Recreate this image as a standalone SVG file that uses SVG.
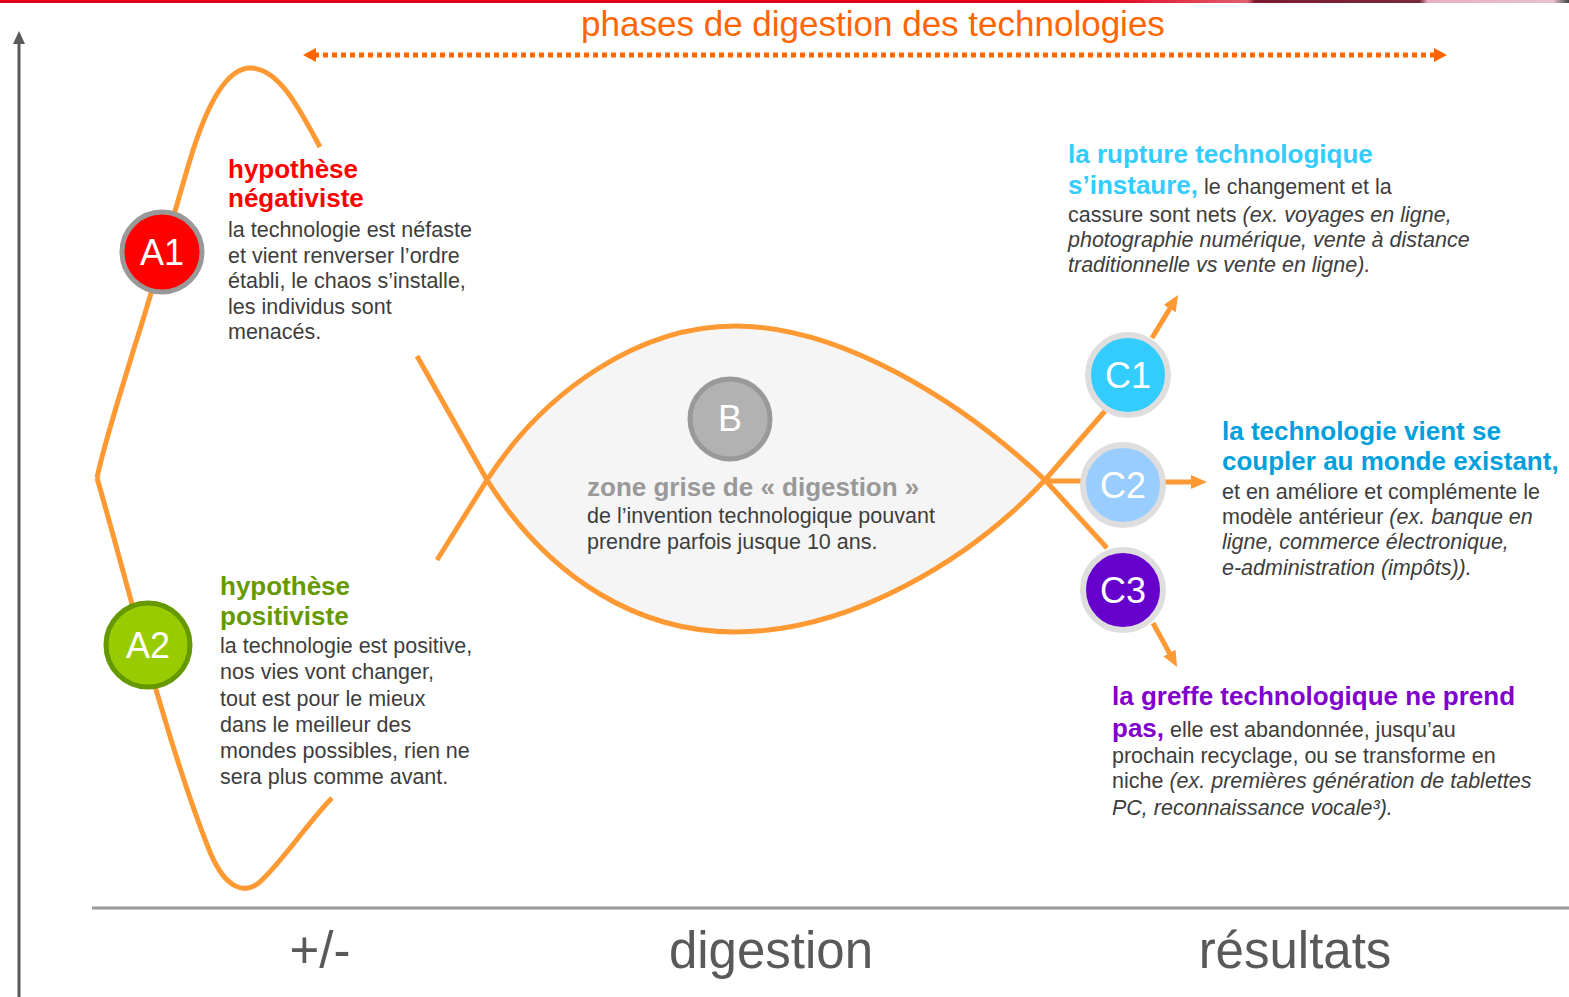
<svg xmlns="http://www.w3.org/2000/svg" width="1569" height="997" viewBox="0 0 1569 997">
<defs>
<style>
text{font-family:"Liberation Sans",Arial,sans-serif;}
.h{font-weight:bold;font-size:26px;}
.b{font-size:21.5px;fill:#3d3d3d;}
.it{font-style:italic;}
.lbl{fill:#fff;text-anchor:middle;font-size:36px;}
.curve{fill:none;stroke:#ff9933;stroke-width:5;stroke-linejoin:round;}
.arr{fill:none;stroke:#ff9933;stroke-width:5;marker-end:url(#arrO);}
.cc{stroke:#dedede;stroke-width:6;}
.axis{font-size:51px;fill:#595959;text-anchor:middle;}
</style>
<linearGradient id="topline" x1="0" y1="0" x2="1" y2="0">
<stop offset="0" stop-color="#e2001a"/>
<stop offset="0.70" stop-color="#e2001a"/>
<stop offset="0.795" stop-color="#e06070"/>
<stop offset="0.80" stop-color="#7a1a2e"/>
<stop offset="0.905" stop-color="#7a2a3a"/>
<stop offset="0.91" stop-color="#e8b0c0"/>
<stop offset="0.99" stop-color="#e8c0cc"/>
<stop offset="1" stop-color="#444"/>
</linearGradient>
<marker id="arrO" markerUnits="userSpaceOnUse" markerWidth="16" markerHeight="14" refX="3" refY="7" orient="auto">
<path d="M0,0 L16,7 L0,14 Z" fill="#ff9933"/>
</marker>
<marker id="arrD" markerUnits="userSpaceOnUse" markerWidth="13" markerHeight="14" refX="2" refY="7" orient="auto-start-reverse">
<path d="M0,0 L13,7 L0,14 Z" fill="#ff6600"/>
</marker>
<marker id="arrAx" markerUnits="userSpaceOnUse" markerWidth="13" markerHeight="12" refX="1" refY="6" orient="auto">
<path d="M0,0 L13,6 L0,12 Z" fill="#5a5a5a"/>
</marker>
</defs>

<rect x="0" y="0" width="1569" height="997" fill="#ffffff"/>
<rect x="0" y="0" width="1569" height="3" fill="url(#topline)"/>

<g id="axes">
<line x1="19" y1="997" x2="19" y2="43" stroke="#5a5a5a" stroke-width="3" marker-end="url(#arrAx)"/>
<line x1="92" y1="908" x2="1569" y2="908" stroke="#999999" stroke-width="3"/>
<text class="axis" x="320" y="968">+/-</text>
<text class="axis" x="771" y="968">digestion</text>
<text class="axis" x="1295" y="968">résultats</text>
</g>

<g id="title">
<text x="873" y="36" font-size="35" fill="#ff6600" text-anchor="middle">phases de digestion des technologies</text>
</g>

<g id="B-zone">
<path d="M487,480 C545,390 640,326 735,326 C840,326 960,400 1045,480 C970,560 850,632 735,632 C640,632 550,580 487,480 Z" fill="#f5f5f5"/>
</g>

<g id="connectors">
<line x1="314" y1="55" x2="1436" y2="55" stroke="#ff6600" stroke-width="5" stroke-dasharray="5 4" marker-start="url(#arrD)" marker-end="url(#arrD)"/>
<path class="curve" d="M320,147 C300,110 280,70 252,68 C225,66 205,110 190,160 C175,210 150,300 135,345 C120,395 105,440 97,478"/>
<path class="curve" d="M97,478 C105,505 120,560 135,615 C155,690 185,790 210,852 C225,888 245,897 262,880 C285,858 310,820 332,798"/>
<path class="curve" d="M437,560 L487,480 C545,390 640,326 735,326 C840,326 960,400 1045,480 L1107,548"/>
<path class="curve" d="M417,356 L487,480 C550,580 640,632 735,632 C850,632 970,560 1045,480 L1105,411"/>
<line class="curve" x1="1045" y1="481" x2="1090" y2="481"/>
<line class="arr" x1="1152" y1="338" x2="1171.3" y2="306.1"/>
<line class="arr" x1="1165" y1="482" x2="1194" y2="482"/>
<line class="arr" x1="1153" y1="623" x2="1170.8" y2="655.6"/>
</g>

<g id="A1">
<circle cx="162" cy="252" r="40" fill="#ff0000" stroke="#999999" stroke-width="5"/>
<text class="lbl" x="162" y="265">A1</text>
<text class="h" x="228" y="178" fill="#ff0000">hypothèse</text>
<text class="h" x="228" y="207" fill="#ff0000">négativiste</text>
<text class="b" x="228" y="237">la technologie est néfaste</text>
<text class="b" x="228" y="263">et vient renverser l’ordre</text>
<text class="b" x="228" y="288">établi, le chaos s’installe,</text>
<text class="b" x="228" y="314">les individus sont</text>
<text class="b" x="228" y="339">menacés.</text>
</g>

<g id="A2">
<circle cx="148" cy="645" r="42" fill="#99cc00" stroke="#669900" stroke-width="5"/>
<text class="lbl" x="148" y="658">A2</text>
<text class="h" x="220" y="595" fill="#669900">hypothèse</text>
<text class="h" x="220" y="625" fill="#669900">positiviste</text>
<text class="b" x="220" y="653">la technologie est positive,</text>
<text class="b" x="220" y="679">nos vies vont changer,</text>
<text class="b" x="220" y="706">tout est pour le mieux</text>
<text class="b" x="220" y="732">dans le meilleur des</text>
<text class="b" x="220" y="758">mondes possibles, rien ne</text>
<text class="b" x="220" y="784">sera plus comme avant.</text>
</g>

<g id="B">
<circle cx="730" cy="419" r="40" fill="#b2b2b2" stroke="#999999" stroke-width="5"/>
<text class="lbl" x="730" y="431" font-size="33">B</text>
<text class="h" x="587" y="496" fill="#999999">zone grise de « digestion »</text>
<text class="b" x="587" y="523">de l’invention technologique pouvant</text>
<text class="b" x="587" y="549">prendre parfois jusque 10 ans.</text>
</g>

<g id="C1">
<circle class="cc" cx="1128" cy="375" r="40" fill="#33ccff"/>
<text class="lbl" x="1128" y="388" font-size="35">C1</text>
<text class="h" x="1068" y="163" fill="#33ccff">la rupture technologique</text>
<text x="1068" y="194"><tspan class="h" fill="#33ccff">s’instaure,</tspan><tspan class="b"> le changement et la</tspan></text>
<text class="b" x="1068" y="222">cassure sont nets <tspan class="it">(ex. voyages en ligne,</tspan></text>
<text class="b it" x="1068" y="247">photographie numérique, vente à distance</text>
<text class="b it" x="1068" y="272">traditionnelle vs vente en ligne).</text>
</g>

<g id="C2">
<circle class="cc" cx="1123" cy="485" r="40" fill="#99ccff"/>
<text class="lbl" x="1123" y="498" font-size="35">C2</text>
<text class="h" x="1222" y="440" fill="#00a0dc">la technologie vient se</text>
<text class="h" x="1222" y="470" fill="#00a0dc">coupler au monde existant,</text>
<text class="b" x="1222" y="499">et en améliore et complémente le</text>
<text class="b" x="1222" y="524">modèle antérieur <tspan class="it">(ex. banque en</tspan></text>
<text class="b it" x="1222" y="549">ligne, commerce électronique,</text>
<text class="b it" x="1222" y="575">e-administration (impôts)).</text>
</g>

<g id="C3">
<circle class="cc" cx="1123" cy="590" r="40" fill="#6600cc"/>
<text class="lbl" x="1123" y="603" font-size="35">C3</text>
<text class="h" x="1112" y="705" fill="#8000cc">la greffe technologique ne prend</text>
<text x="1112" y="737"><tspan class="h" fill="#8000cc">pas,</tspan><tspan class="b"> elle est abandonnée, jusqu’au</tspan></text>
<text class="b" x="1112" y="763">prochain recyclage, ou se transforme en</text>
<text class="b" x="1112" y="788">niche <tspan class="it">(ex. premières génération de tablettes</tspan></text>
<text class="b it" x="1112" y="815">PC, reconnaissance vocale³).</text>
</g>
</svg>
